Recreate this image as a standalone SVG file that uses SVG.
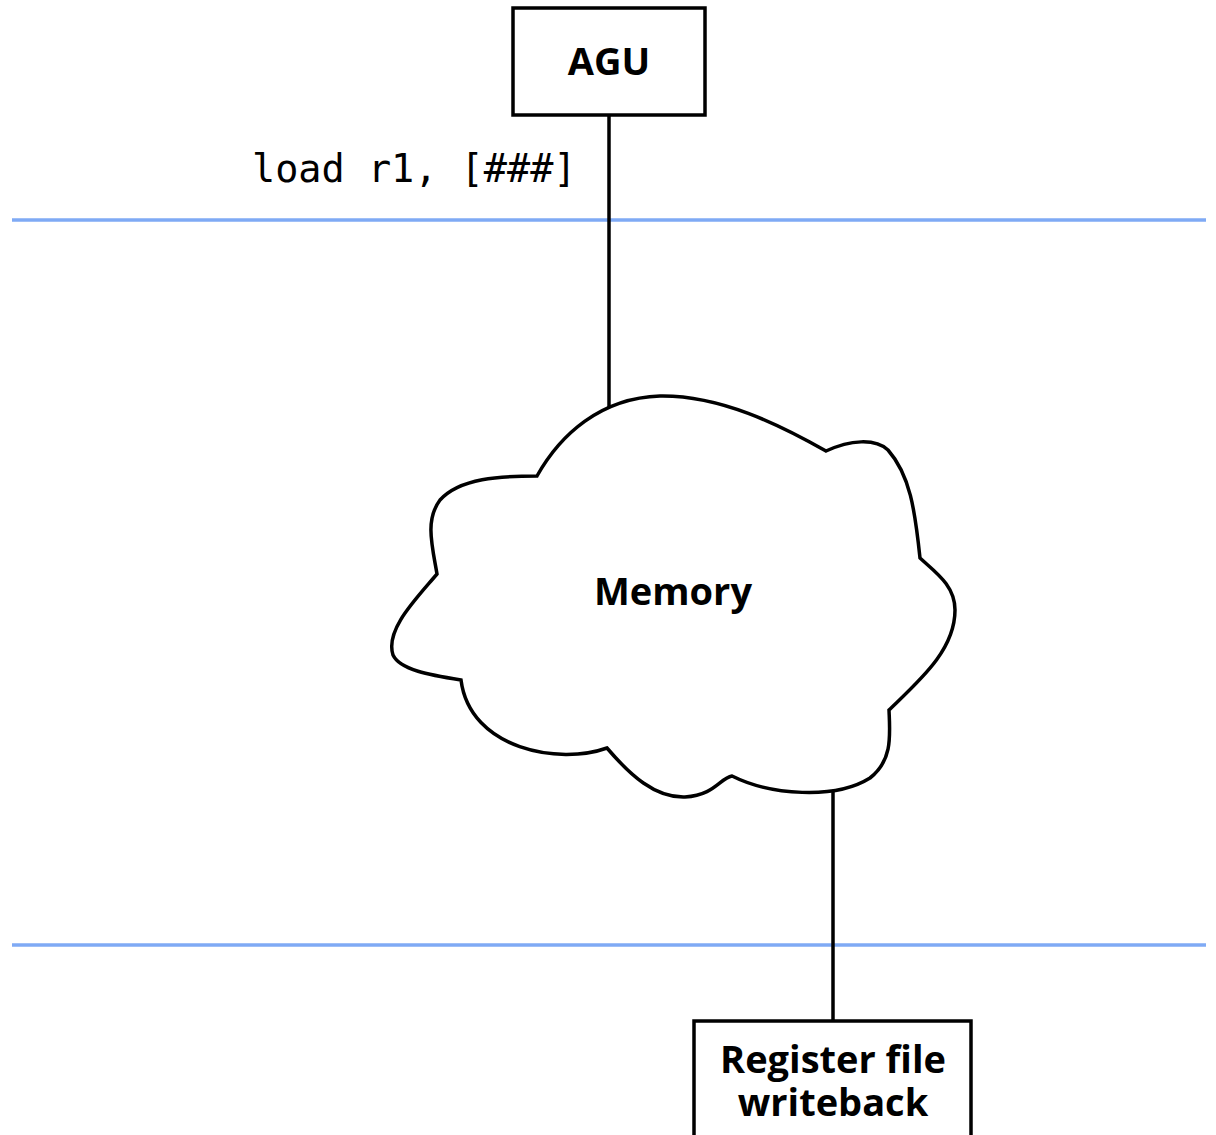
<svg xmlns="http://www.w3.org/2000/svg" width="1216" height="1135" viewBox="0 0 1216 1135">
<style>
.box{fill:#fff;stroke:#000;stroke-width:3.5}
.lbl{font-family:"Open Sans","Noto Sans",sans-serif;font-weight:bold;font-size:38px;text-anchor:middle;fill:#000}
.wire{stroke:#000;stroke-width:3.5;fill:none}
.stage{stroke:#7faaf5;stroke-width:3.5}
.code{font-family:"DejaVu Sans Mono",monospace;font-size:38.5px;fill:#000}
</style>
<rect width="1216" height="1135" fill="#fff"/>
<g id="stages">
<line class="stage" x1="12" y1="220" x2="1206" y2="220"/>
<line class="stage" x1="12" y1="945" x2="1206" y2="945"/>
</g>
<g id="connectors">
<line class="wire" x1="609" y1="115" x2="609" y2="407"/>
<line class="wire" x1="833" y1="788" x2="833" y2="1021"/>
</g>
<g id="agu">
<rect class="box" x="513" y="8" width="192" height="107"/>
<text class="lbl" x="609" y="75">AGU</text>
</g>
<text class="code" x="252" y="182">load r1, [###]</text>
<g id="memory">
<path class="box" d="M 537 476 C 560 435, 600 398, 660 396 C 720 395, 780 425, 826 451 C 850 440, 875 438, 888 450 C 910 475, 915 510, 920 558 C 935 572, 955 585, 955 610 C 955 650, 920 680, 889 710 C 890 735, 893 760, 870 778 C 835 800, 770 795, 732 776 C 720 778, 715 795, 685 797 C 655 798, 630 775, 607 748 C 560 765, 470 750, 461 680 C 430 675, 400 670, 393 655 C 385 630, 415 600, 437 574 C 432 545, 425 520, 440 500 C 460 478, 500 476, 537 476 Z"/>
<text class="lbl" x="673" y="605">Memory</text>
</g>
<g id="writeback">
<rect class="box" x="694" y="1021" width="277" height="130"/>
<text class="lbl" x="833" y="1073">Register file</text>
<text class="lbl" x="833" y="1116">writeback</text>
</g>
</svg>
